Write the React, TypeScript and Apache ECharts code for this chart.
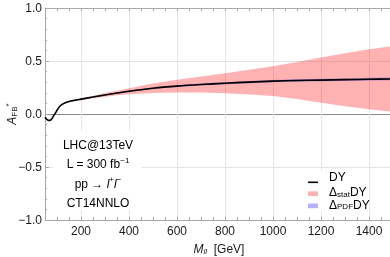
import { useEffect, useRef } from 'react';
import * as echarts from 'echarts';

const mass = [50, 55, 60, 65, 70, 75, 80, 85, 90, 95, 100, 110, 120, 130, 150, 175, 200, 250, 300, 350, 400, 500, 600, 700, 800, 900, 1000, 1100, 1200, 1300, 1400, 1500];
const dy = [-0.03, -0.045, -0.055, -0.06, -0.06, -0.055, -0.04, -0.02, -0.003, 0.015, 0.035, 0.068, 0.088, 0.102, 0.118, 0.13, 0.14, 0.16, 0.18, 0.198, 0.215, 0.243, 0.263, 0.278, 0.29, 0.301, 0.31, 0.316, 0.32, 0.324, 0.328, 0.331];
const statErr = [0.002, 0.002, 0.002, 0.002, 0.002, 0.002, 0.002, 0.002, 0.002, 0.002, 0.002, 0.002, 0.002, 0.002, 0.004, 0.006, 0.008, 0.012, 0.017, 0.022, 0.028, 0.044, 0.06, 0.076, 0.095, 0.116, 0.14, 0.175, 0.213, 0.25, 0.283, 0.31];
const pdfErr = [0.004, 0.004, 0.004, 0.004, 0.004, 0.004, 0.004, 0.004, 0.004, 0.004, 0.004, 0.004, 0.004, 0.004, 0.004, 0.004, 0.004, 0.005, 0.006, 0.006, 0.007, 0.008, 0.009, 0.009, 0.01, 0.01, 0.011, 0.011, 0.012, 0.012, 0.013, 0.013];
const xLabelStep = 200;
const annotations = ['LHC@13TeV', 'L = 300 fb{sup|−1}', 'pp → {i|l}{sup|+}{i|l}{sup|−}', 'CT14NNLO'];
const legendLabels = ['DY', '{n|Δ}{sub|stat}{n|DY}', '{n|Δ}{sub|PDF}{n|DY}'];

const FONT = '"Liberation Sans", Arial, sans-serif';
const TXT = '#1a1a1a';
const FRAME = '#a8a8a8';
const GRID = '#e4e4e4';
const STAT_COLOR = 'rgba(255,0,0,0.3)';
const PDF_COLOR = 'rgba(0,0,255,0.3)';

const lowOf = (err: number[]) => dy.map((v, i) => v - err[i]);
const highOf = (err: number[]) => dy.map((v, i) => v + err[i]);

const bandRender = (lo: number[], hi: number[], color: string) => (params: any, api: any) => {
  if (params.dataIndex !== 0) return null;
  const upper = mass.map((m, i) => api.coord([m, hi[i]]));
  const lower = mass.map((m, i) => api.coord([m, lo[i]])).reverse();
  return {
    type: 'polygon',
    shape: { points: upper.concat(lower) },
    style: { fill: color },
  };
};

const makeRich = (lh: number, slh: number) => ({
  n: { fontSize: 12, fontFamily: FONT, color: TXT, lineHeight: lh, verticalAlign: 'bottom' },
  i: { fontSize: 12, fontFamily: FONT, color: TXT, fontStyle: 'italic', lineHeight: lh, verticalAlign: 'bottom' },
  sub: { fontSize: 8, fontFamily: FONT, color: TXT, lineHeight: slh, verticalAlign: 'bottom' },
  isub: { fontSize: 8, fontFamily: FONT, color: TXT, fontStyle: 'italic', lineHeight: slh, verticalAlign: 'bottom' },
  sup: { fontSize: 8, fontFamily: FONT, color: TXT, lineHeight: slh, verticalAlign: 'top' },
});
const richCommon = makeRich(14, 6);
const richLegend = makeRich(11, 5);

const wrapRich = (t: string) => '{n|' + t.replace(/\{(\w+)\|([^}]*)\}/g, '}{$1|$2}{n|') + '}';

export default function App() {
  const ref = useRef<HTMLDivElement>(null);
  useEffect(() => {
    const chart = echarts.init(ref.current!, null, { renderer: 'svg' });
    const statLo = lowOf(statErr);
    const statHi = highOf(statErr);
    const pdfLo = lowOf(pdfErr);
    const pdfHi = highOf(pdfErr);
    const xColors = ['rgba(0,0,0,0)', 'rgba(0,0,0,0)', 'rgba(0,0,0,0)', GRID];
    const legendY = [177, 192.5, 205];
    const legendIcons: any[] = [
      { type: 'rect', x: 308, y: 181.5, shape: { x: 0, y: 0, width: 10, height: 1.6 }, style: { fill: '#000' } },
      { type: 'rect', x: 308, y: 191.3, shape: { x: 0, y: 0, width: 10, height: 4.7 }, style: { fill: STAT_COLOR } },
      { type: 'rect', x: 308, y: 203.5, shape: { x: 0, y: 0, width: 10, height: 4.7 }, style: { fill: PDF_COLOR } },
    ];
    const option: any = {
      animation: false,
      textStyle: { fontFamily: FONT },
      grid: { left: 45, right: -3, top: 8, bottom: 37, containLabel: false, outerBoundsMode: 'none' },
      xAxis: [
        {
          type: 'value',
          min: 50,
          max: 1500,
          interval: 50,
          position: 'bottom',
          axisLine: { onZero: false, lineStyle: { color: FRAME, width: 1 } },
          axisTick: { inside: true, length: 3, lineStyle: { color: FRAME } },
          axisLabel: {
            margin: 5,
            fontSize: 12,
            fontFamily: FONT,
            color: TXT,
            showMinLabel: false,
            showMaxLabel: false,
            formatter: (v: number) => (v % xLabelStep === 0 ? String(v) : ''),
          },
          splitLine: { show: true, lineStyle: { color: xColors, width: 1 } },
          name: '{i|M}{isub|ll}{n|  [GeV]}',
          nameLocation: 'middle',
          nameGap: 21,
          nameMoveOverlap: false,
          nameTextStyle: { rich: richCommon },
        },
        {
          type: 'value',
          min: 50,
          max: 1500,
          interval: 50,
          position: 'top',
          axisLine: { onZero: false, lineStyle: { color: FRAME, width: 1 } },
          axisTick: { inside: true, length: 3, lineStyle: { color: FRAME } },
          axisLabel: { show: false },
          splitLine: { show: false },
        },
      ],
      yAxis: {
        type: 'value',
        min: -1,
        max: 1,
        interval: 0.5,
        axisLine: { onZero: false, show: true, lineStyle: { color: FRAME, width: 1 } },
        axisTick: { show: true, inside: true, length: 4, lineStyle: { color: FRAME } },
        minorTick: { show: true, splitNumber: 5, length: 2, lineStyle: { color: FRAME } },
        axisLabel: {
          margin: 3,
          fontSize: 12,
          fontFamily: FONT,
          color: TXT,
          formatter: (v: number) => (v < 0 ? '−' + Math.abs(v).toFixed(1) : v.toFixed(1)),
        },
        splitLine: { show: true, lineStyle: { color: [GRID, GRID, '#8a8a8a', GRID, GRID], width: 1 } },
        name: '{i|A}{sub|FB}{sup|*}',
        nameLocation: 'middle',
        nameRotate: 90,
        nameGap: 27,
        nameMoveOverlap: false,
        nameTextStyle: { rich: richCommon },
      },
      series: [
        {
          name: 'stat',
          type: 'custom',
          clip: true,
          z: 1,
          itemStyle: { color: STAT_COLOR },
          encode: { x: 0, y: [1, 2] },
          data: mass.map((m, i) => [m, statLo[i], statHi[i]]),
          renderItem: bandRender(statLo, statHi, STAT_COLOR),
        },
        {
          name: 'pdf',
          type: 'custom',
          clip: true,
          z: 2,
          itemStyle: { color: PDF_COLOR },
          encode: { x: 0, y: [1, 2] },
          data: mass.map((m, i) => [m, pdfLo[i], pdfHi[i]]),
          renderItem: bandRender(pdfLo, pdfHi, PDF_COLOR),
        },
        {
          name: 'DY',
          type: 'line',
          z: 3,
          symbol: 'none',
          smooth: 0.3,
          clip: true,
          itemStyle: { color: '#000' },
          lineStyle: { color: '#000', width: 1.6 },
          data: mass.map((m, i) => [m, dy[i]]),
        },
      ],
      graphic: [
        { type: 'rect', z: 10, x: 53, y: 131, shape: { x: 0, y: 0, width: 89, height: 79 }, style: { fill: '#fff' } },
        ...annotations.map((t, k) => ({
          type: 'text',
          z: 11,
          x: 98,
          y: 144 + k * 19.3,
          style: { text: wrapRich(t), rich: richCommon, align: 'center', verticalAlign: 'middle' },
        })),
        { type: 'rect', z: 10, x: 305, y: 171, shape: { x: 0, y: 0, width: 61, height: 40 }, style: { fill: '#fff' } },
        ...legendIcons.map((g) => ({ ...g, z: 11 })),
        ...legendLabels.map((t, k) => ({
          type: 'text',
          z: 11,
          x: 329,
          y: legendY[k],
          style: { text: wrapRich(t), rich: richLegend, align: 'left', verticalAlign: 'middle' },
        })),
      ],
    };
    chart.setOption(option);
    return () => chart.dispose();
  }, []);
  return <div ref={ref} style={{ position: 'fixed', left: 0, top: 0, width: 390, height: 257 }} />;
}
